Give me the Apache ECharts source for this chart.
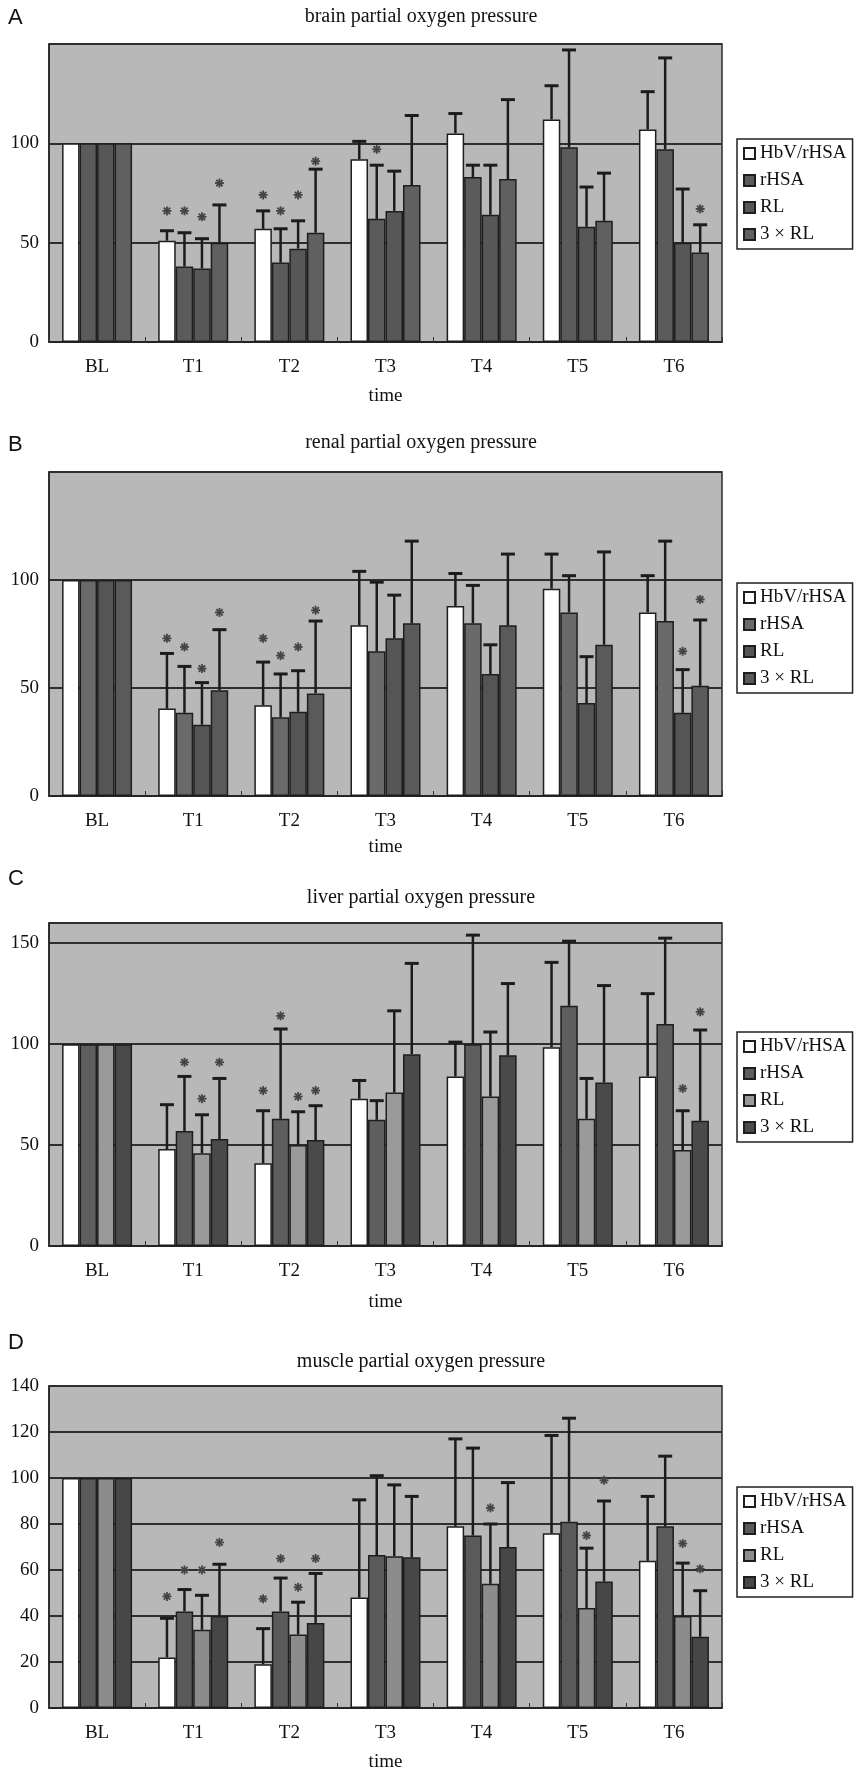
<!DOCTYPE html>
<html>
<head>
<meta charset="utf-8">
<title>partial oxygen pressure</title>
<script src="https://cdn.jsdelivr.net/npm/echarts@6/dist/echarts.min.js"></script>
<style>
  html, body { margin: 0; padding: 0; background: #fff; }
  #chart { width: 858px; height: 1775px; }
</style>
</head>
<body>
<div id="chart"></div>
<script>
// categories and groups
const categories = ['BL', 'T1', 'T2', 'T3', 'T4', 'T5', 'T6'];
const groups = ['HbV/rHSA', 'rHSA', 'RL', '3 × RL'];

// A brain: mean, top of error bar, asterisk height (one row per group)
const brainMeans = [
  [100, 51, 57, 92, 105, 112, 107],
  [100, 38, 40, 62, 83, 98, 97],
  [100, 37, 47, 66, 64, 58, 50],
  [100, 50, 55, 79, 82, 61, 45]
];
const brainCaps = [
  [null, 56, 66, 101, 115, 129, 126],
  [null, 55, 57, 89, 89, 147, 143],
  [null, 52, 61, 86, 89, 78, 77],
  [null, 69, 87, 114, 122, 85, 59]
];
const brainStars = [
  [null, 66, 74, null, null, null, null],
  [null, 66, 66, 97, null, null, null],
  [null, 63, 74, null, null, null, null],
  [null, 80, 91, null, null, null, 67]
];
const brainTicks = [0, 50, 100];

// B renal
const renalMeans = [
  [100, 40.5, 42, 79, 88, 96, 85],
  [100, 38.5, 36.5, 67, 80, 85, 81],
  [100, 33, 39, 73, 56.5, 43, 38.5],
  [100, 49, 47.5, 80, 79, 70, 51]
];
const renalCaps = [
  [null, 66, 62, 104, 103, 112, 102],
  [null, 60, 56.5, 99, 97.5, 102, 118],
  [null, 52.5, 58, 93, 70, 64.5, 58.5],
  [null, 77, 81, 118, 112, 113, 81.5]
];
const renalStars = [
  [null, 73, 73, null, null, null, null],
  [null, 69, 65, null, null, null, null],
  [null, 59, 69, null, null, null, 67],
  [null, 85, 86, null, null, null, 91]
];
const renalTicks = [0, 50, 100];

// C liver
const liverMeans = [
  [100, 48, 41, 73, 84, 98.5, 84],
  [100, 57, 63, 62.5, 100, 119, 110],
  [100, 46, 50, 76, 74, 63, 47.5],
  [100, 53, 52.5, 95, 94.5, 81, 62]
];
const liverCaps = [
  [null, 70, 67, 82, 101, 140.5, 125],
  [null, 84, 107.5, 72, 154, 151, 152.5],
  [null, 65, 66.5, 116.5, 106, 83, 67],
  [null, 83, 69.5, 140, 130, 129, 107]
];
const liverStars = [
  [null, null, 77, null, null, null, null],
  [null, 91, 114, null, null, null, null],
  [null, 73, 74, null, null, null, 78],
  [null, 91, 77, null, null, null, 116]
];
const liverTicks = [0, 50, 100, 150];

// D muscle
const muscleMeans = [
  [100, 22, 19, 48, 79, 76, 64],
  [100, 42, 42, 66.5, 75, 81, 79],
  [100, 34, 32, 66, 54, 43.5, 40],
  [100, 40, 37, 65.5, 70, 55, 31]
];
const muscleCaps = [
  [null, 39, 34.5, 90.5, 117, 118.5, 92],
  [null, 51.5, 56.5, 101, 113, 126, 109.5],
  [null, 49, 46, 97, 80, 69.5, 63],
  [null, 62.5, 58.5, 92, 98, 90, 51]
];
const muscleStars = [
  [null, 48.5, 47.5, null, null, null, null],
  [null, 60, 65, null, null, null, null],
  [null, 60, 52.5, null, 87, 75, 71.5],
  [null, 72, 65, null, null, 99, 60.5]
];
const muscleTicks = [0, 20, 40, 60, 80, 100, 120, 140];

const SERIF = 'Liberation Serif, Times New Roman, serif';
const BAR_W = 17.5;

// panel layout (pixels)
const panels = [
  { key: 'A', title: 'brain partial oxygen pressure', means: brainMeans, caps: brainCaps, stars: brainStars,
    ticks: brainTicks, max: 150, top: 44, height: 298, titleY: 17, letterY: 18, legendTop: 139, nameGap: 45,
    colors: ['#ffffff', '#5b5b5b', '#575757', '#606060'] },
  { key: 'B', title: 'renal partial oxygen pressure', means: renalMeans, caps: renalCaps, stars: renalStars,
    ticks: renalTicks, max: 150, top: 472, height: 324, titleY: 443, letterY: 445, legendTop: 583, nameGap: 42,
    colors: ['#ffffff', '#6a6a6a', '#555555', '#5a5a5a'] },
  { key: 'C', title: 'liver partial oxygen pressure', means: liverMeans, caps: liverCaps, stars: liverStars,
    ticks: liverTicks, max: 160, top: 923, height: 323, titleY: 898, letterY: 879, legendTop: 1032, nameGap: 47,
    colors: ['#ffffff', '#5e5e5e', '#9a9a9a', '#4a4a4a'] },
  { key: 'D', title: 'muscle partial oxygen pressure', means: muscleMeans, caps: muscleCaps, stars: muscleStars,
    ticks: muscleTicks, max: 140, top: 1386, height: 322, titleY: 1362, letterY: 1343, legendTop: 1487, nameGap: 45,
    colors: ['#ffffff', '#5a5a5a', '#8c8c8c', '#474747'] }
];

const option = {
  animation: false,
  backgroundColor: '#ffffff',
  grid: [], xAxis: [], yAxis: [], legend: [], series: [], graphic: []
};

panels.forEach((p, i) => {
  option.grid.push({
    left: 49, width: 673, top: p.top, height: p.height,
    show: true, backgroundColor: '#b8b8b8', borderColor: '#2b2b2b', borderWidth: 1.5
  });
  option.xAxis.push({
    type: 'category', gridIndex: i, data: categories,
    name: 'time', nameLocation: 'middle', nameGap: p.nameGap,
    nameTextStyle: { fontFamily: SERIF, fontSize: 19, color: '#111' },
    axisLine: { lineStyle: { color: '#222', width: 1.5 } },
    axisTick: { show: true, inside: true, length: 5, lineStyle: { color: '#333' } },
    axisLabel: { fontFamily: SERIF, fontSize: 19, color: '#111', margin: 16 }
  });
  option.yAxis.push({
    type: 'value', gridIndex: i, min: 0, max: p.max, interval: p.ticks[1] - p.ticks[0],
    axisLine: { show: true, lineStyle: { color: '#222', width: 1.5 } },
    axisTick: { show: false },
    splitLine: { lineStyle: { color: '#2e2e2e', width: 2 } },
    axisLabel: {
      fontFamily: SERIF, fontSize: 19, color: '#111', margin: 10,
      formatter: v => (p.ticks.indexOf(v) >= 0 ? String(v) : '')
    }
  });
  option.legend.push({
    orient: 'vertical', left: 737, top: p.legendTop,
    data: groups.map(g => p.key + '|' + g),
    formatter: n => n.split('|')[1],
    icon: 'rect', itemWidth: 11, itemHeight: 11, itemGap: 8,
    backgroundColor: '#fff', borderColor: '#222', borderWidth: 1.5, borderRadius: 0,
    padding: [5, 6, 5, 6], selectedMode: false,
    textStyle: { fontFamily: SERIF, fontSize: 19, color: '#111', lineHeight: 18 }
  });

  groups.forEach((g, k) => {
    // bars
    option.series.push({
      name: p.key + '|' + g, type: 'bar', xAxisIndex: i, yAxisIndex: i,
      data: p.means[k], barWidth: BAR_W, barGap: '0%',
      itemStyle: { color: p.colors[k], borderColor: '#1e1e1e', borderWidth: 1.5 }
    });
  });

  groups.forEach((g, k) => {
    const off = (k - 1.5) * BAR_W;
    // error bars
    const err = [];
    p.caps[k].forEach((c, j) => { if (c != null) err.push([j, p.means[k][j], c]); });
    option.series.push({
      type: 'custom', xAxisIndex: i, yAxisIndex: i, data: err, z: 5, silent: true,
      renderItem: (params, api) => {
        const a = api.coord([api.value(0), api.value(1)]);
        const b = api.coord([api.value(0), api.value(2)]);
        const x = a[0] + off;
        return {
          type: 'group', children: [
            { type: 'line', shape: { x1: x, y1: a[1], x2: x, y2: b[1] }, style: { stroke: '#1c1c1c', lineWidth: 2.5 } },
            { type: 'line', shape: { x1: x - 7, y1: b[1], x2: x + 7, y2: b[1] }, style: { stroke: '#1c1c1c', lineWidth: 3 } }
          ]
        };
      }
    });
    // asterisks
    const st = [];
    p.stars[k].forEach((s, j) => { if (s != null) st.push([j, s]); });
    option.series.push({
      type: 'custom', xAxisIndex: i, yAxisIndex: i, data: st, z: 6, silent: true,
      renderItem: (params, api) => {
        const c = api.coord([api.value(0), api.value(1)]);
        const x = c[0] + off, y = c[1], r = 4.5, d = r * 0.707;
        const ls = { stroke: '#444', lineWidth: 1.8 };
        return {
          type: 'group', children: [
            { type: 'line', shape: { x1: x - r, y1: y, x2: x + r, y2: y }, style: ls },
            { type: 'line', shape: { x1: x, y1: y - r, x2: x, y2: y + r }, style: ls },
            { type: 'line', shape: { x1: x - d, y1: y - d, x2: x + d, y2: y + d }, style: ls },
            { type: 'line', shape: { x1: x - d, y1: y + d, x2: x + d, y2: y - d }, style: ls }
          ]
        };
      }
    });
  });

  // panel letter and title
  option.graphic.push({
    type: 'text', left: 8, top: p.letterY - 11,
    style: { text: p.key, font: '22px Liberation Sans, Arial, sans-serif', fill: '#111' }
  });
  option.graphic.push({
    type: 'text', x: 421, y: p.titleY,
    style: { text: p.title, font: '20px ' + SERIF, fill: '#111', textAlign: 'center', textVerticalAlign: 'middle' }
  });
});

const chart = echarts.init(document.getElementById('chart'));
chart.setOption(option);
</script>
</body>
</html>
